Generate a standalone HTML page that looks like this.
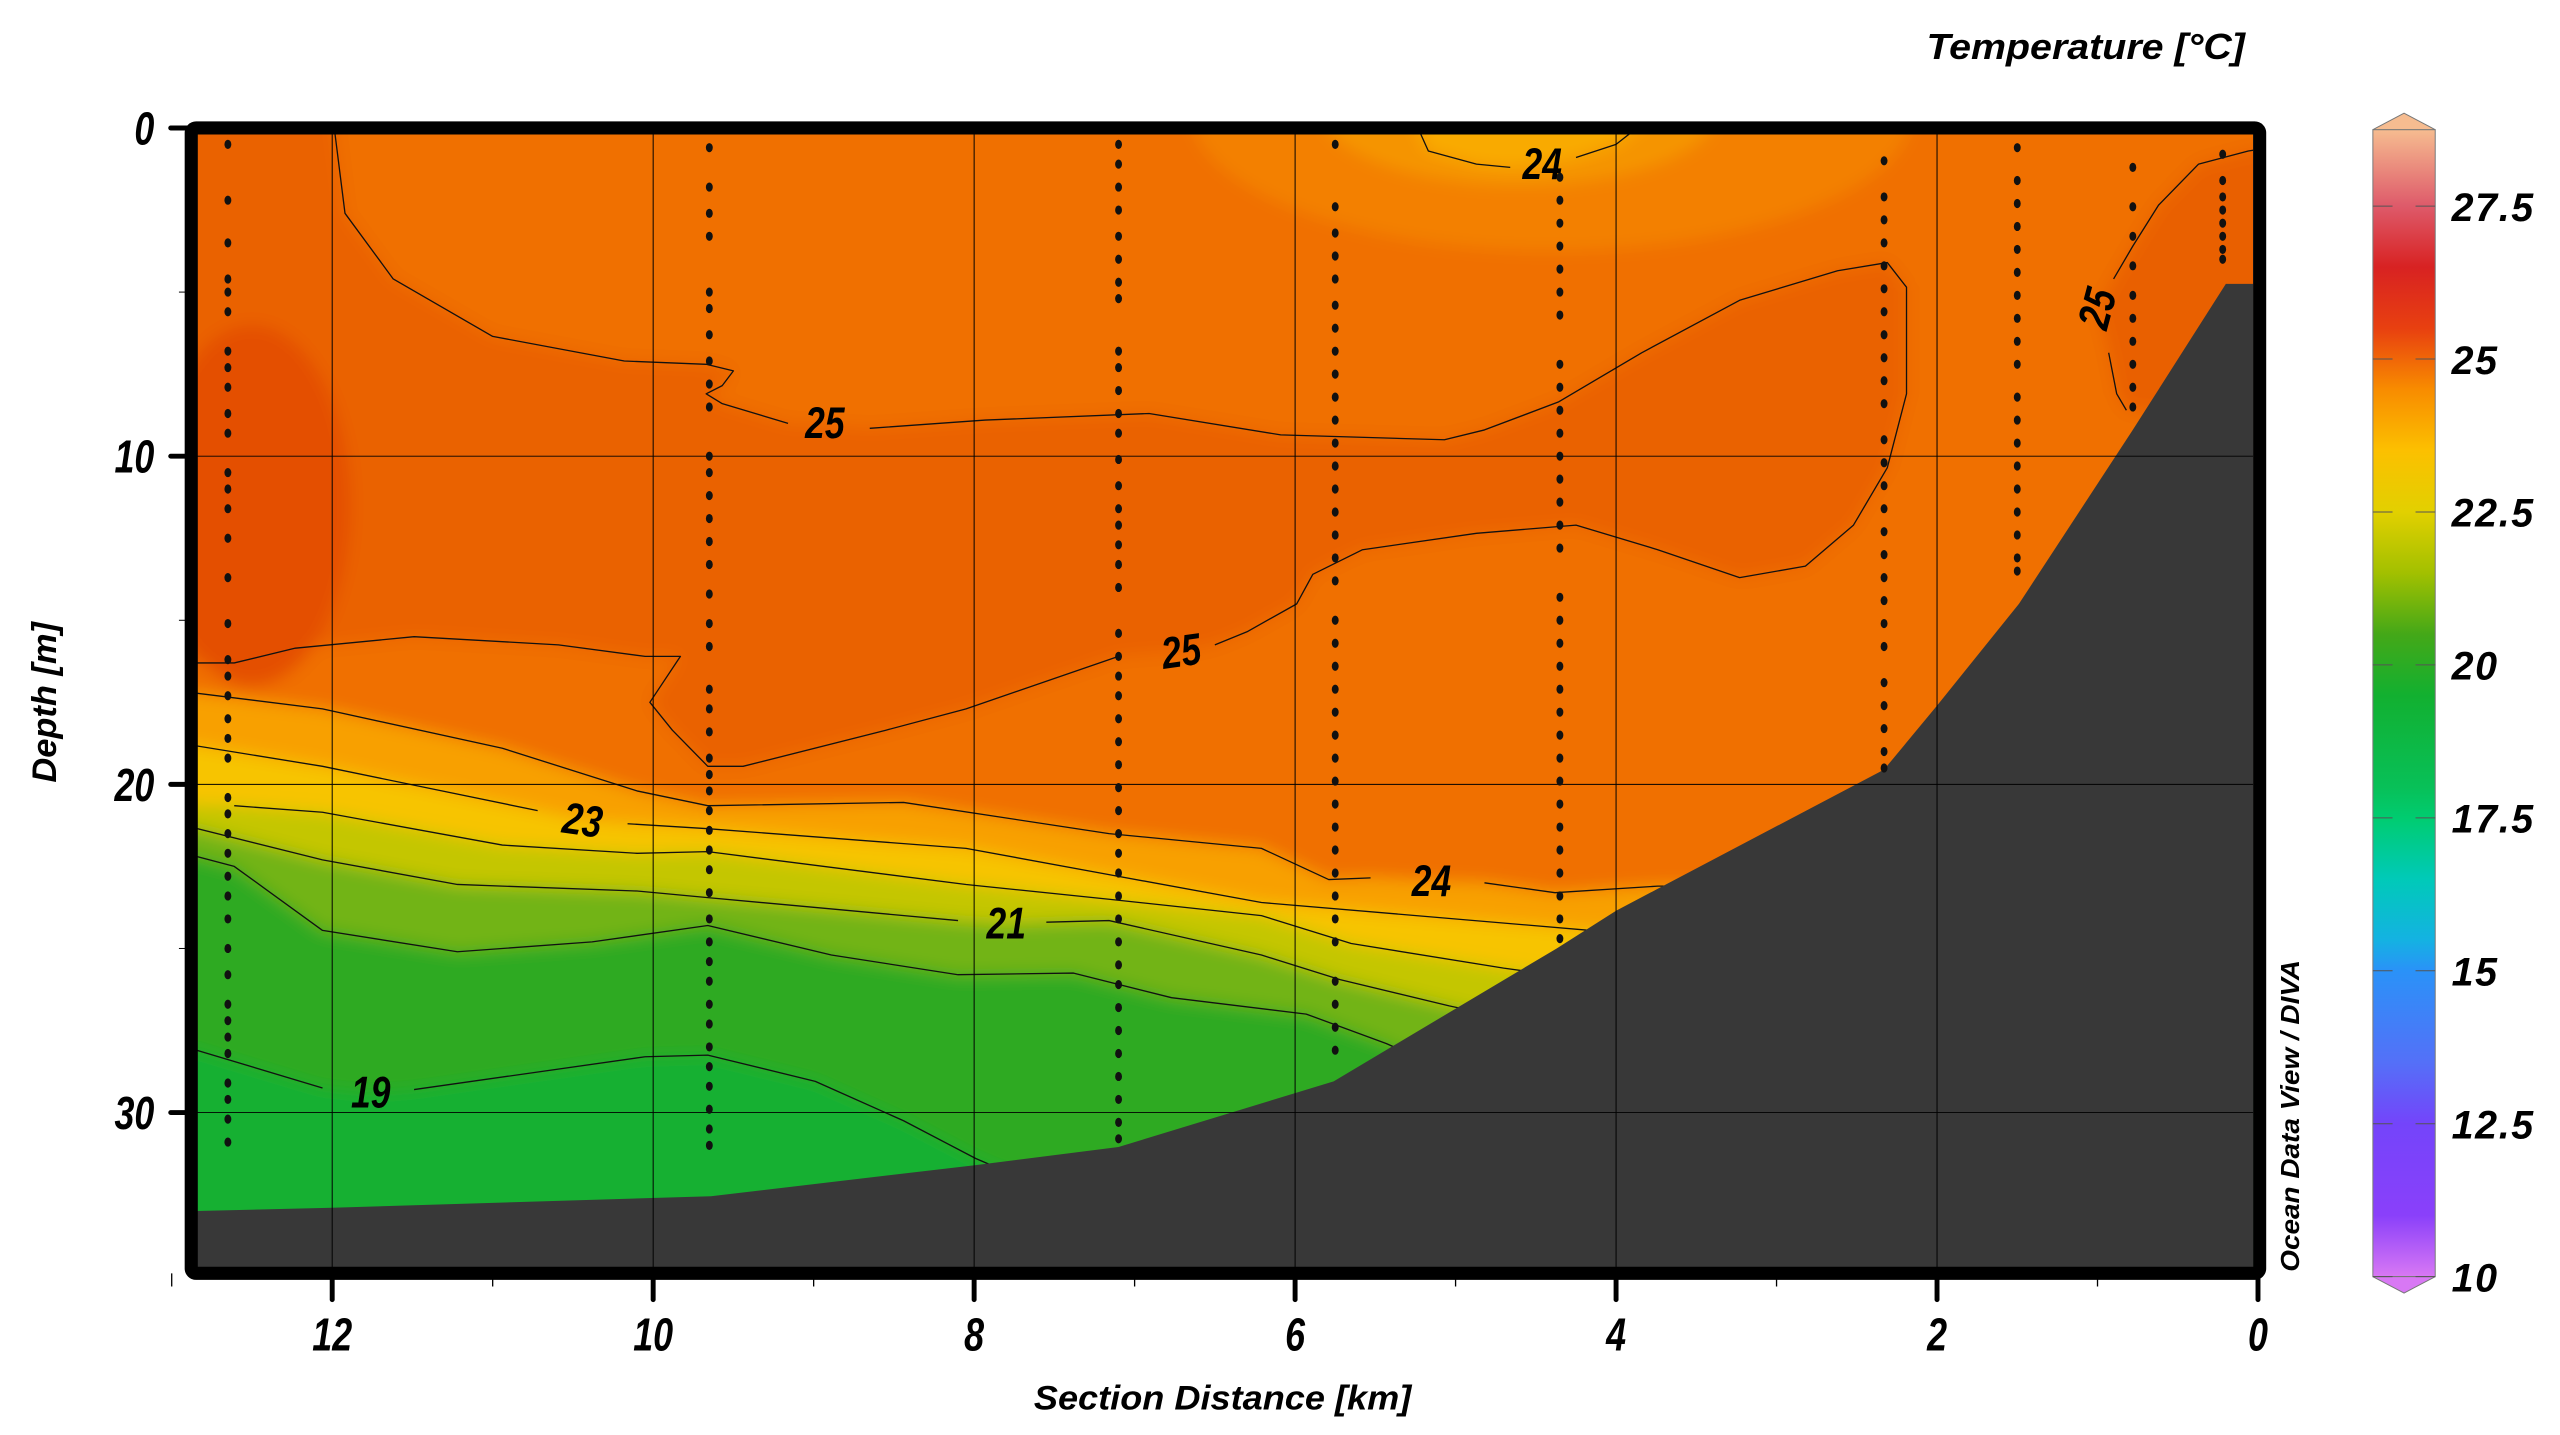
<!DOCTYPE html>
<html><head><meta charset="utf-8"><title>Temperature section</title>
<style>
html,body{margin:0;padding:0;background:#fff;}
svg{display:block;}
.tk{font-family:"Liberation Sans Narrow","Liberation Sans",sans-serif;font-weight:bold;font-style:italic;}
.cb{font-family:"Liberation Sans",sans-serif;font-weight:bold;font-style:italic;}
</style></head>
<body>
<svg id="chart" xmlns="http://www.w3.org/2000/svg" width="2560" height="1435" viewBox="0 0 1560 874.5">
<defs>
<clipPath id="plotClip"><rect x="120" y="82" width="1253" height="691"/></clipPath>
<filter id="soft" x="-5%" y="-5%" width="110%" height="110%"><feGaussianBlur stdDeviation="5"/></filter>
<linearGradient id="cbGrad" x1="0" y1="1" x2="0" y2="0" gradientUnits="objectBoundingBox"></linearGradient>
</defs>
<g id="field" clip-path="url(#plotClip)">
  <g id="fieldBlur" filter="url(#soft)"></g>
  <g id="contours"></g>
  <g id="bathy"></g>
  <g id="grid"></g>
  <g id="stations"></g>
  <g id="clabels"></g>
</g>
<rect x="116.5" y="78" width="1260.5" height="698" rx="3" fill="none" stroke="#000" stroke-width="8"/>
<g id="axes"></g>
<text class="tk" x="745" y="859" text-anchor="middle" font-size="21" textLength="230" lengthAdjust="spacingAndGlyphs">Section Distance [km]</text>
<text class="tk" transform="translate(34,428) rotate(-90)" text-anchor="middle" font-size="21">Depth [m]</text>
<text class="tk" x="1368" y="36" text-anchor="end" font-size="22" textLength="194" lengthAdjust="spacingAndGlyphs">Temperature [°C]</text>
<text class="tk" transform="translate(1401,775) rotate(-90)" font-size="16" textLength="190" lengthAdjust="spacingAndGlyphs">Ocean Data View / DIVA</text>
<g id="colorbar"></g>
</svg>
<script>
// ---------- data ----------
const xTicks=[12,10,8,6,4,2,0];
const xMinor=[13,11,9,7,5,3,1];
const yTicks=[0,10,20,30];
const stationKm=[12.65,9.65,7.1,5.75,4.35,2.33,1.5,0.78,0.22];
const st1=[0.5,2.2,3.5,4.6,5,5.6,6.8,7.3,7.9,8.7,9.3,10.5,11,11.6,12.5,13.7,15.1,16.2,16.7,17.3,18,18.6,19.2,20.4,20.9,21.5,22.1,22.8,23.4,24.1,25,25.8,26.7,27.2,27.7,28.2,29.1,29.6,30.2,30.9];
const st2=[0.6,1.8,2.6,3.3,5,5.5,6.3,7.1,7.8,8.5,10,10.5,11.2,11.9,12.6,13.3,14.2,15.1,15.8,17.1,17.7,18.4,19.2,19.7,20.2,20.8,21.4,22,22.6,23.3,24.1,24.8,25.4,26,26.7,27.3,28,28.6,29.2,29.9,30.5,31];
const st3=[0.5,1.1,1.8,2.5,3.3,4,4.7,5.2,6.8,7.3,8,8.7,9.3,10.1,10.9,11.6,12.1,12.7,13.3,14,15.4,16.1,16.7,17.3,18,18.7,19.4,20.1,20.8,21.5,22.1,22.7,23.4,24.1,24.8,25.5,26.1,26.8,27.5,28.2,28.9,29.6,30.3,30.8];
const st4=[0.5,2.4,3.2,3.9,4.6,5.4,6.1,6.8,7.5,8.2,8.9,9.6,10.3,11,11.7,12.4,13.1,13.8,15,15.7,16.4,17.1,17.8,18.5,19.2,19.9,20.6,21.3,22,22.7,23.4,24.1,24.8,26,26.7,27.4,28.1];
const st5=[1.5,2.2,2.9,3.6,4.3,5,5.7,7.2,7.9,8.6,9.3,10,10.7,11.4,12.1,12.8,14.3,15,15.7,16.4,17.1,17.8,18.5,19.2,19.9,20.6,21.3,22,22.7,23.4,24.1,24.7];
const st6=[1,2.1,2.8,3.5,4.2,4.9,5.6,6.3,7,7.7,8.4,9.5,10.2,10.9,11.6,12.3,13,13.7,14.4,15.1,15.8,16.9,17.6,18.3,19,19.5];
const st7=[0.6,1.6,2.3,3,3.7,4.4,5.1,5.8,6.5,7.2,8.2,8.9,9.6,10.3,11,11.7,12.4,13.1,13.5];
const st8=[1.2,2.4,3.3,4.2,5.1,5.8,6.5,7.2,7.9,8.5];
const st9=[0.8,1.6,2.1,2.5,2.9,3.3,3.7,4];
const stationDepths=[st1,st2,st3,st4,st5,st6,st7,st8,st9];
const bathyKm=[13.2,12.84,12.0,9.64,7.99,7.1,5.76,4.37,4.0,2.33,2.0,1.49,0.78,0.2,-0.2];
const bathyD=[33.0,33.0,32.9,32.55,31.6,31.05,29.05,25.0,23.85,19.55,17.6,14.5,9.2,4.75,4.75];
const c25Km=[12.0,11.92,11.62,11.0,10.18,9.67,9.5,9.57,9.67,9.57,9.16,8.93,8.65,7.93,6.91,6.09,5.07,4.82,4.36,3.84,3.23,2.62,2.31,2.19,2.19,2.31,2.52,2.82,3.23,3.74,4.25,4.87,5.58,5.89,5.99,6.3,6.5,6.71,7.1,8.05,8.55,9.44,9.66,9.88,10.02,9.83,10.05,10.59,11.49,12.23,12.61,13.1];
const c25D=[-0.5,2.6,4.6,6.35,7.1,7.2,7.4,7.85,8.1,8.4,9.0,9.05,9.15,8.9,8.7,9.35,9.5,9.2,8.35,6.85,5.25,4.35,4.1,4.85,8.1,10.35,12.1,13.35,13.7,12.85,12.1,12.35,12.85,13.6,14.5,15.35,15.75,15.95,16.1,17.7,18.35,19.45,19.45,18.35,17.5,16.1,16.1,15.75,15.5,15.85,16.3,16.3];
const c25rKm=[-0.2,0.06,0.37,0.62,0.78,0.9,1.0,0.93,0.88,0.82];
const c25rD=[0.5,0.7,1.1,2.35,3.6,4.6,5.5,6.85,8.1,8.6];
const c24tKm=[5.28,5.17,4.87,4.66,4.46,4.25,4.0,3.74];
const c24tD=[-0.5,0.7,1.1,1.2,1.1,0.9,0.5,-0.5];
const c24Km=[13.1,12.88,12.06,10.94,10.1,9.66,8.44,7.16,6.21,5.79,5.53,5.15,4.82,4.38,3.74,3.4];
const c24D=[17.2,17.2,17.7,18.9,20.2,20.65,20.55,21.5,21.95,22.9,22.85,22.95,23.0,23.3,23.1,23.1];
const c23Km=[13.1,12.88,12.06,10.72,10.44,10.16,9.66,8.05,7.16,6.21,4.16,3.8];
const c23D=[18.8,18.8,19.45,20.8,21.1,21.2,21.35,21.95,22.75,23.6,24.45,24.45];
const c22Km=[13.1,12.9,12.61,12.06,10.94,10.1,9.66,8.05,7.16,6.21,5.65,4.7,4.4];
const c22D=[20.6,20.6,20.65,20.85,21.85,22.1,22.05,23.05,23.5,24.0,24.85,25.6,25.8];
const c21Km=[13.1,12.88,12.06,11.22,10.1,9.66,8.1,7.8,7.55,7.16,6.21,5.72,5.04,4.8];
const c21D=[21.3,21.3,22.3,23.05,23.25,23.45,24.15,24.25,24.2,24.15,25.2,25.95,26.75,27.0];
const c20Km=[13.1,12.88,12.61,12.06,11.22,10.38,9.66,8.89,8.1,7.38,6.77,5.93,5.43,5.2];
const c20D=[22.15,22.15,22.5,24.45,25.1,24.8,24.3,25.2,25.8,25.75,26.5,27.0,27.9,28.4];
const c19Km=[13.1,12.88,12.06,11.76,11.49,10.05,9.66,8.99,8.44,7.99,7.8];
const c19D=[28.05,28.05,29.25,29.4,29.3,28.3,28.25,29.05,30.25,31.4,31.8];
const bandColors=['#f8a000','#f7c400','#c4c600','#72b416','#2eaa22','#14b030'];
const labelText=['25','25','24','25','23','24','21','19','2'];
const labelKm=[8.93,6.71,4.46,1.0,10.44,5.15,7.8,11.76,12.95];
const labelD=[9.0,15.95,1.1,5.5,21.1,22.95,24.25,29.4,20.55];
const labelRot=[0,-8,0,-75,8,0,0,0,0];
const cbValues=[10,11,12.5,13.5,15,15.5,16.5,17.5,18,19.5,20.5,21.5,22.5,23.5,24.5,25.5,26.5,27.5,28.75];
const cbColors=['#d878f4','#8a40fa','#7444fa','#5470f8','#2a92f8','#14b2e2','#00cab8','#00cc70','#08c058','#12b030','#44a818','#a2c000','#e2d000','#fcc000','#f88c00','#e84010','#d82222','#de5a6a','#f6bc90'];
const cbTicks=[10,12.5,15,17.5,20,22.5,25,27.5];
const cbTickLabels=['10','12.5','15','17.5','20','22.5','25','27.5'];

(function(){
const X=km=>1376-km*97.8;
const Y=d=>78+d*20;
const CBY=v=>778-(v-10)*(778-79)/(28.75-10);
const NS='http://www.w3.org/2000/svg';
function mk(tag,parent,attrs){const el=document.createElementNS(NS,tag);for(const k in attrs)el.setAttribute(k,attrs[k]);parent.appendChild(el);return el;}
const pts=(ks,ds)=>ks.map((k,i)=>X(k).toFixed(1)+','+Y(ds[i]).toFixed(1));

const fb=document.getElementById('fieldBlur');
let e;
e=mk('rect',fb,{x:100,y:60,width:1300,height:740,fill:'#f07000'});


e=mk('ellipse',fb,{cx:X(4.4),cy:Y(-0.5),rx:220,ry:85,fill:'#f38000'});


e=mk('ellipse',fb,{cx:X(4.6),cy:Y(-0.5),rx:120,ry:45,fill:'#f59400'});


e=mk('polygon',fb,{points:pts(c24tKm,c24tD).join(' '),fill:'#f9aa00'});


e=mk('polygon',fb,{points:[X(13.2)+','+Y(-1)].concat(pts(c25Km,c25D)).join(' '),fill:'#ea6200'});


e=mk('ellipse',fb,{cx:X(12.5),cy:Y(11.5),rx:60,ry:110,fill:'#e45000'});


e=mk('polygon',fb,{points:pts(c25rKm,c25rD).concat([X(-0.2)+','+Y(9)]).join(' '),fill:'#e96000'});


const lowerK=[c24Km,c23Km,c22Km,c21Km,c20Km,c19Km];
const lowerD=[c24D,c23D,c22D,c21D,c20D,c19D];
lowerK.forEach((ks,i)=>{
  const p=pts(ks,lowerD[i]);
  p.push(X(-0.2)+','+Y(lowerD[i][lowerD[i].length-1]));
  p.push(X(-0.2)+','+Y(38));p.push(X(13.2)+','+Y(38));
  const b=mk('polygon',fb,{points:p.join(' '),fill:bandColors[i]});
  
  
});

const cg=document.getElementById('contours');
function line(ks,ds,name,gaps){
  let seg=[];const segs=[];
  for(let i=0;i<ks.length;i++){
    const inGap=gaps.some(g=>ks[i]<=Math.max(g[0],g[1])&&ks[i]>=Math.min(g[0],g[1]));
    if(inGap){if(seg.length)segs.push(seg);seg=[];}else seg.push(X(ks[i]).toFixed(1)+','+Y(ds[i]).toFixed(1));
  }
  if(seg.length)segs.push(seg);
  segs.forEach(s=>{const l=mk('polyline',cg,{points:s.join(' '),fill:'none',stroke:'#111','stroke-width':0.8,'stroke-linejoin':'round'});
    
    });
}
line(c25Km,c25D,'isotherm-25',[[8.8,9.05],[6.6,6.8]]);
line(c25rKm,c25rD,'isotherm-25-right',[[0.95,1.05]]);
line(c24tKm,c24tD,'isotherm-24-surface',[[4.4,4.6]]);
line(c24Km,c24D,'isotherm-24',[[5.1,5.2]]);
line(c23Km,c23D,'isotherm-23',[[10.3,10.5]]);
line(c22Km,c22D,'isotherm-22',[[12.85,12.95]]);
line(c21Km,c21D,'isotherm-21',[[7.7,7.85]]);
line(c20Km,c20D,'isotherm-20',[]);
line(c19Km,c19D,'isotherm-19',[[11.6,11.8]]);

const bg=document.getElementById('bathy');
e=mk('polygon',bg,{points:pts(bathyKm,bathyD).concat([X(-0.2)+','+Y(37),X(13.2)+','+Y(37)]).join(' '),fill:'#383838'});



const gg=document.getElementById('grid');
xTicks.forEach(k=>{const l=mk('line',gg,{x1:X(k),x2:X(k),y1:78,y2:776,stroke:'#000','stroke-width':0.6});
  
  });
yTicks.forEach(d=>{const l=mk('line',gg,{x1:117,x2:1377,y1:Y(d),y2:Y(d),stroke:'#000','stroke-width':0.6});
  
  });

const sg=document.getElementById('stations');
stationKm.forEach((k,i)=>{
  stationDepths[i].forEach(d=>{
    const c=mk('ellipse',sg,{cx:X(k),cy:Y(d),rx:2.1,ry:2.8,fill:'#111'});
    
    
  });
});

const lg=document.getElementById('clabels');
labelText.forEach((t,i)=>{
  const x=X(labelKm[i]),y=Y(labelD[i]);
  const tx=mk('text',lg,{x:0,y:9,'text-anchor':'middle','font-size':27,class:'tk',fill:'#000',transform:'translate('+x+','+y+') rotate('+labelRot[i]+') scale(0.8,1)'});
  tx.textContent=t;
  
  
});

const ag=document.getElementById('axes');
xTicks.forEach(k=>{
  const l=mk('line',ag,{x1:X(k),x2:X(k),y1:776,y2:792,stroke:'#000','stroke-width':3,'stroke-linecap':'round'});
  
  
  const t=mk('text',ag,{x:0,y:0,'text-anchor':'middle','font-size':28,class:'tk',transform:'translate('+X(k)+',823) scale(0.78,1)'});
  t.textContent=k;
  
  
});
xMinor.forEach(k=>{const l=mk('line',ag,{x1:X(k),x2:X(k),y1:776,y2:784,stroke:'#000','stroke-width':0.8});
  
  });
yTicks.forEach(d=>{
  const l=mk('line',ag,{x1:104,x2:116,y1:Y(d),y2:Y(d),stroke:'#000','stroke-width':3,'stroke-linecap':'round'});
  
  
  const t=mk('text',ag,{x:0,y:0,'text-anchor':'end','font-size':28,class:'tk',transform:'translate(94,'+(Y(d)+10)+') scale(0.78,1)'});
  t.textContent=d;
  
  
});
[5,15,25].forEach(d=>{const l=mk('line',ag,{x1:109,x2:116,y1:Y(d),y2:Y(d),stroke:'#000','stroke-width':0.6});
  
  });

const grad=document.getElementById('cbGrad');
const span=28.75-10;
cbValues.forEach((v,i)=>{mk('stop',grad,{offset:((v-10)/span).toFixed(4),'stop-color':cbColors[i]});});
const cb=document.getElementById('colorbar');
const L=1446,R=1484,cTop=CBY(28.75),cBot=CBY(10),mid=(L+R)/2;
e=mk('polygon',cb,{points:`${L},${cTop} ${R},${cTop} ${R},${cBot} ${L},${cBot}`,fill:'url(#cbGrad)',stroke:'#777','stroke-width':0.6});


e=mk('polygon',cb,{points:`${L},${cTop} ${mid},${cTop-10} ${R},${cTop}`,fill:'#f6bc90',stroke:'#777','stroke-width':0.6});


e=mk('polygon',cb,{points:`${L},${cBot} ${mid},${cBot+10} ${R},${cBot}`,fill:'#d878f4',stroke:'#777','stroke-width':0.6});


cbTicks.forEach((v,i)=>{
  const y=CBY(v);
  const a=mk('line',cb,{x1:L,x2:L+12,y1:y,y2:y,stroke:'#555','stroke-width':0.6});
  
  
  const b=mk('line',cb,{x1:R-12,x2:R,y1:y,y2:y,stroke:'#555','stroke-width':0.6});
  
  
  const t=mk('text',cb,{x:1494,y:y+9,'font-size':24,class:'cb','letter-spacing':1});
  t.textContent=cbTickLabels[i];
  
  
});
})();
</script>
</body></html>
